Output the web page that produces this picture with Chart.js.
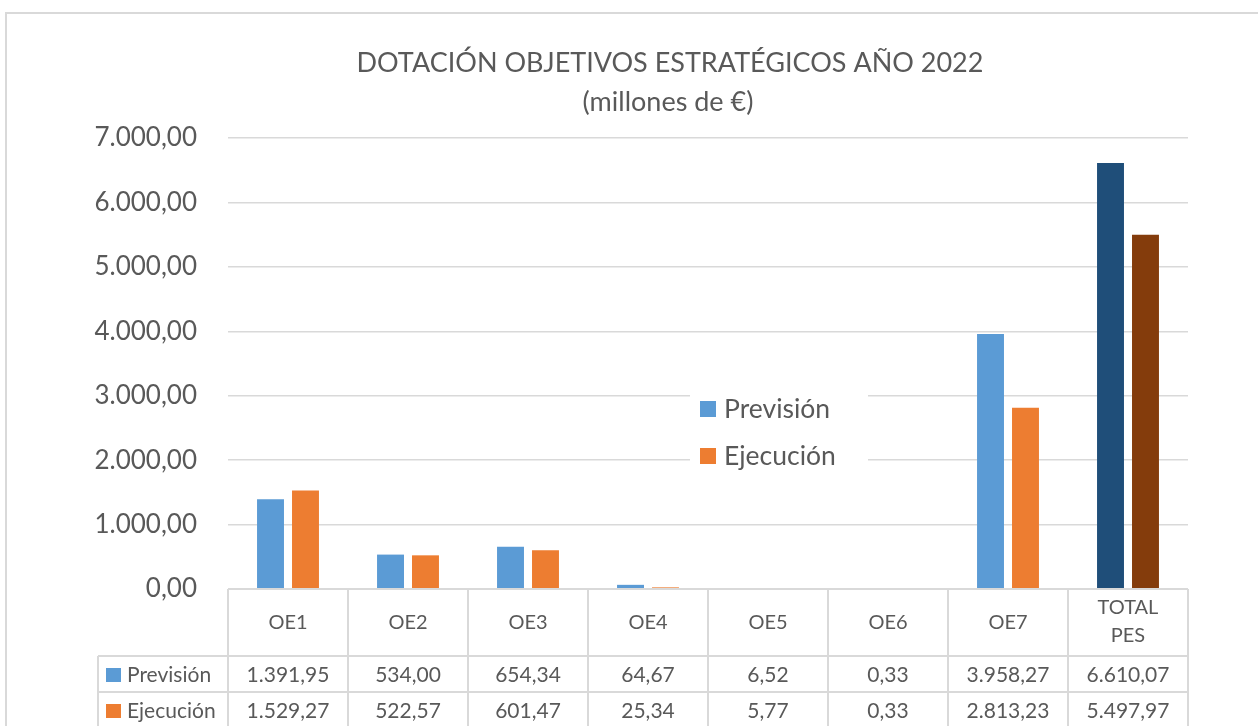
<!DOCTYPE html>
<html><head><meta charset="utf-8">
<script src="https://cdn.jsdelivr.net/npm/chart.js@4"></script>
<style>html,body{margin:0;padding:0;background:#fff;overflow:hidden}</style>
</head><body>
<canvas id="c" width="1258" height="726" style="width:1258px;height:726px;display:block"></canvas>
<script>
const categories = ['OE1','OE2','OE3','OE4','OE5','OE6','OE7',['TOTAL','PES']];
const prevision = [1391.95, 534.00, 654.34, 64.67, 6.52, 0.33, 3958.27, 6610.07];
const ejecucion = [1529.27, 522.57, 601.47, 25.34, 5.77, 0.33, 2813.23, 5497.97];
const seriesNames = ['Previsión','Ejecución'];
const previsionColors = ['#5B9BD5','#5B9BD5','#5B9BD5','#5B9BD5','#5B9BD5','#5B9BD5','#5B9BD5','#1F4E79'];
const ejecucionColors = ['#ED7D31','#ED7D31','#ED7D31','#ED7D31','#ED7D31','#ED7D31','#ED7D31','#843C0C'];
const titleLines = ['DOTACIÓN OBJETIVOS ESTRATÉGICOS AÑO 2022','(millones de €)'];
const yMax = 7000, yStep = 1000;

const FONT = 'Lato, "Open Sans", sans-serif';
const GRID = '#D9D9D9';
const TXT = '#595959';

function fmt(v){
  const parts = v.toFixed(2).split('.');
  let int = parts[0].replace(/\B(?=(\d{3})+(?!\d))/g, '.');
  return int + ',' + parts[1];
}

const framePlugin = {
  id:'frame',
  beforeDraw(chart){
    const ctx = chart.ctx;
    ctx.save();
    ctx.fillStyle='#fff'; ctx.fillRect(0,0,chart.width,chart.height);
    ctx.strokeStyle = GRID; ctx.lineWidth = 2;
    ctx.strokeRect(6,13,1300,800);
    ctx.fillStyle = TXT; ctx.font = '27px '+FONT; ctx.textAlign='center'; ctx.textBaseline='middle';
    ctx.fillText(titleLines[0], 670, 63);
    ctx.fillText(titleLines[1], 668, 102);
    ctx.restore();
  }
};

const legendPlugin = {
  id:'legendBox',
  afterDatasetsDraw(chart){
    const ctx = chart.ctx;
    ctx.save();
    ctx.fillStyle='#fff'; ctx.fillRect(690,382,178,96);
    ctx.font='26.5px '+FONT; ctx.textBaseline='middle'; ctx.textAlign='left';
    const cols=[previsionColors[0], ejecucionColors[0]];
    const ys=[409,456];
    for(let i=0;i<2;i++){
      ctx.fillStyle=cols[i]; ctx.fillRect(700, ys[i]-8, 16, 16);
      ctx.fillStyle=TXT; ctx.fillText(seriesNames[i], 724, ys[i]);
    }
    ctx.restore();
  }
};

const tablePlugin = {
  id:'dataTable',
  afterDraw(chart){
    const ctx = chart.ctx, xs = chart.scales.x, area = chart.chartArea;
    const n = categories.length;
    const cw = (area.right-area.left)/n;
    const top = area.bottom, hBot = top+67, r1 = hBot+36, r2 = r1+36;
    const leftCol = 98;
    ctx.save();
    ctx.strokeStyle = GRID; ctx.lineWidth = 2;
    ctx.beginPath();
    ctx.moveTo(area.left, top); ctx.lineTo(area.right, top);
    ctx.moveTo(leftCol, hBot); ctx.lineTo(area.right, hBot);
    ctx.moveTo(leftCol, r1); ctx.lineTo(area.right, r1);
    ctx.moveTo(leftCol, r2); ctx.lineTo(area.right, r2);
    for(let i=0;i<=n;i++){
      const x = area.left + i*cw;
      ctx.moveTo(x, top); ctx.lineTo(x, r2+10);
    }
    ctx.moveTo(leftCol, hBot); ctx.lineTo(leftCol, r2+10);
    ctx.stroke();

    ctx.fillStyle = TXT; ctx.textAlign='center'; ctx.textBaseline='middle';
    ctx.font = '20px '+FONT;
    for(let i=0;i<n;i++){
      const cx = xs.getPixelForValue(i);
      const lab = categories[i];
      if(Array.isArray(lab)){
        ctx.fillText(lab[0], cx, top+19);
        ctx.fillText(lab[1], cx, top+47);
      } else ctx.fillText(lab, cx, top+34);
    }
    ctx.font = '21px '+FONT;
    for(let i=0;i<n;i++){
      const cx = xs.getPixelForValue(i);
      ctx.fillText(fmt(prevision[i]), cx, hBot+19);
      ctx.fillText(fmt(ejecucion[i]), cx, r1+19);
    }
    ctx.textAlign='left';
    ctx.fillStyle=previsionColors[0]; ctx.fillRect(106, hBot+12, 15, 14);
    ctx.fillStyle=ejecucionColors[0]; ctx.fillRect(106, r1+12, 15, 14);
    ctx.fillStyle=TXT;
    ctx.fillText(seriesNames[0], 127, hBot+19);
    ctx.fillText(seriesNames[1], 127, r1+19);
    ctx.restore();
  }
};

new Chart(document.getElementById('c'), {
  type:'bar',
  data:{
    labels: categories,
    datasets:[
      {label:seriesNames[0], data:prevision, backgroundColor:previsionColors, borderWidth:0},
      {label:seriesNames[1], data:ejecucion, backgroundColor:ejecucionColors, borderWidth:0}
    ]
  },
  options:{
    responsive:false, animation:false, devicePixelRatio:1,
    layout:{padding:{left:0, top:138, right:70, bottom:137}},
    datasets:{bar:{categoryPercentage:0.583, barPercentage:0.77}},
    plugins:{legend:{display:false}, title:{display:false}, tooltip:{enabled:false}},
    scales:{
      x:{display:false},
      y:{
        min:0, max:yMax,
        afterFit(scale){ scale.width = 228; },
        border:{display:false},
        grid:{color:GRID, lineWidth:1.5, drawTicks:false},
        ticks:{stepSize:yStep, padding:31, color:TXT, font:{family:FONT, size:26}, callback:v=>fmt(v)}
      }
    }
  },
  plugins:[framePlugin, legendPlugin, tablePlugin]
});
</script>
</body></html>
